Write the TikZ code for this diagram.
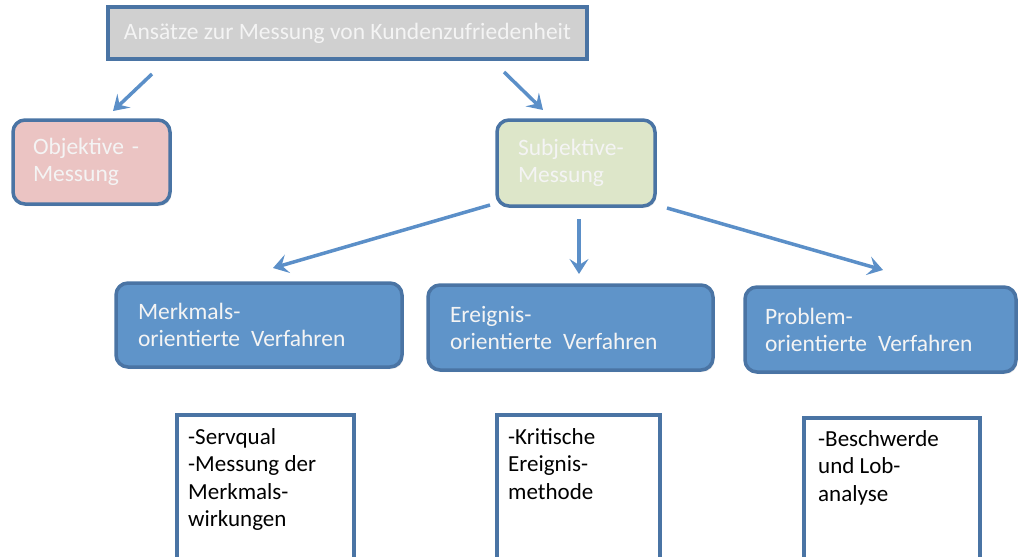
\documentclass[tikz,border=0pt]{standalone}
\usepackage{fontspec}
\setmainfont{Carlito}
\usetikzlibrary{arrows.meta,shadows}
\definecolor{bord}{HTML}{4A74A4}
\definecolor{topfill}{HTML}{D0D0D0}
\definecolor{pinkfill}{HTML}{EBC4C3}
\definecolor{greenfill}{HTML}{DDE6C9}
\definecolor{bluefill}{HTML}{5F94C9}
\definecolor{arrowc}{HTML}{5B8FC8}
\definecolor{lighttext}{HTML}{F4F4F4}
\newcommand{\gapsp}{\hspace{11pt}}
\tikzset{
  boxfont/.style={font=\fontsize{23.5}{27}\selectfont},
  shade box/.style={drop shadow={opacity=0.22, shadow xshift=1.5pt, shadow yshift=-2pt}},
  topbox/.style={draw=bord, line width=4pt, fill=topfill, text=lighttext, boxfont, inner sep=0pt, shade box},
  roundbox/.style={draw=bord, line width=3.5pt, rounded corners=12pt, text=lighttext, boxfont, align=left, shade box},
  detailbox/.style={draw=bord, line width=4pt, fill=white, anchor=north west, inner sep=0pt},
  detailtext/.style={anchor=north west, align=left, text=black, font=\fontsize{23}{27.5}\selectfont, inner sep=0pt},
  arr/.style={draw=arrowc, line width=3.5pt, -{Stealth[length=15pt, width=19pt, inset=6pt]}}
}
\begin{document}
\begin{tikzpicture}[x=1pt, y=-1pt]
\useasboundingbox (0,0) rectangle (1018,557);
\clip (0,0) rectangle (1018,557);

\node[topbox, minimum width=479pt, minimum height=52pt] (top) at (347.5,33) {Ansätze zur Messung von Kundenzufriedenheit};

\node[roundbox, fill=pinkfill, text width=117pt, inner xsep=20pt, minimum height=84pt] (obj) at (91.5,162) {Objektive -\\Messung};
\node[roundbox, fill=greenfill, text width=116pt, inner xsep=21pt, minimum height=86pt] (subj) at (576,163) {Subjektive-\\Messung};

\node[roundbox, fill=bluefill, text width=242pt, inner xsep=22pt, minimum height=84pt] (merk) at (259,325) {Merkmals-\\orientierte\gapsp Verfahren};
\node[roundbox, fill=bluefill, text width=241pt, inner xsep=22pt, minimum height=85pt] (ereig) at (570.5,327.5) {Ereignis-\\orientierte\gapsp Verfahren};
\node[roundbox, fill=bluefill, text width=231pt, inner xsep=20pt, minimum height=85pt] (prob) at (880.5,329.5) {Problem-\\orientierte\gapsp Verfahren};

\node[detailbox, minimum width=177pt, minimum height=190pt] (d1) at (175,413) {};
\node[detailbox, minimum width=163pt, minimum height=190pt] (d2) at (495,413) {};
\node[detailbox, minimum width=176pt, minimum height=190pt] (d3) at (802,416) {};
\node[detailtext] (t1) at (188,428) {-Servqual\\-Messung der\\Merkmals-\\wirkungen};
\node[detailtext] (t2) at (508,428) {-Kritische\\Ereignis-\\methode};
\node[detailtext] (t3) at (818,430) {-Beschwerde\\und Lob-\\analyse};

\coordinate (a1s) at (152,74);  \coordinate (a1e) at (113,111);
\coordinate (a2s) at (504,72);  \coordinate (a2e) at (543,110);
\coordinate (a3s) at (490,205); \coordinate (a3e) at (273,268);
\coordinate (a4s) at (579,219); \coordinate (a4e) at (579,274);
\coordinate (a5s) at (667,208); \coordinate (a5e) at (883,270);
\draw[arr] (a1s) -- (a1e);
\draw[arr] (a2s) -- (a2e);
\draw[arr] (a3s) -- (a3e);
\draw[arr] (a4s) -- (a4e);
\draw[arr] (a5s) -- (a5e);
\end{tikzpicture}
\end{document}
